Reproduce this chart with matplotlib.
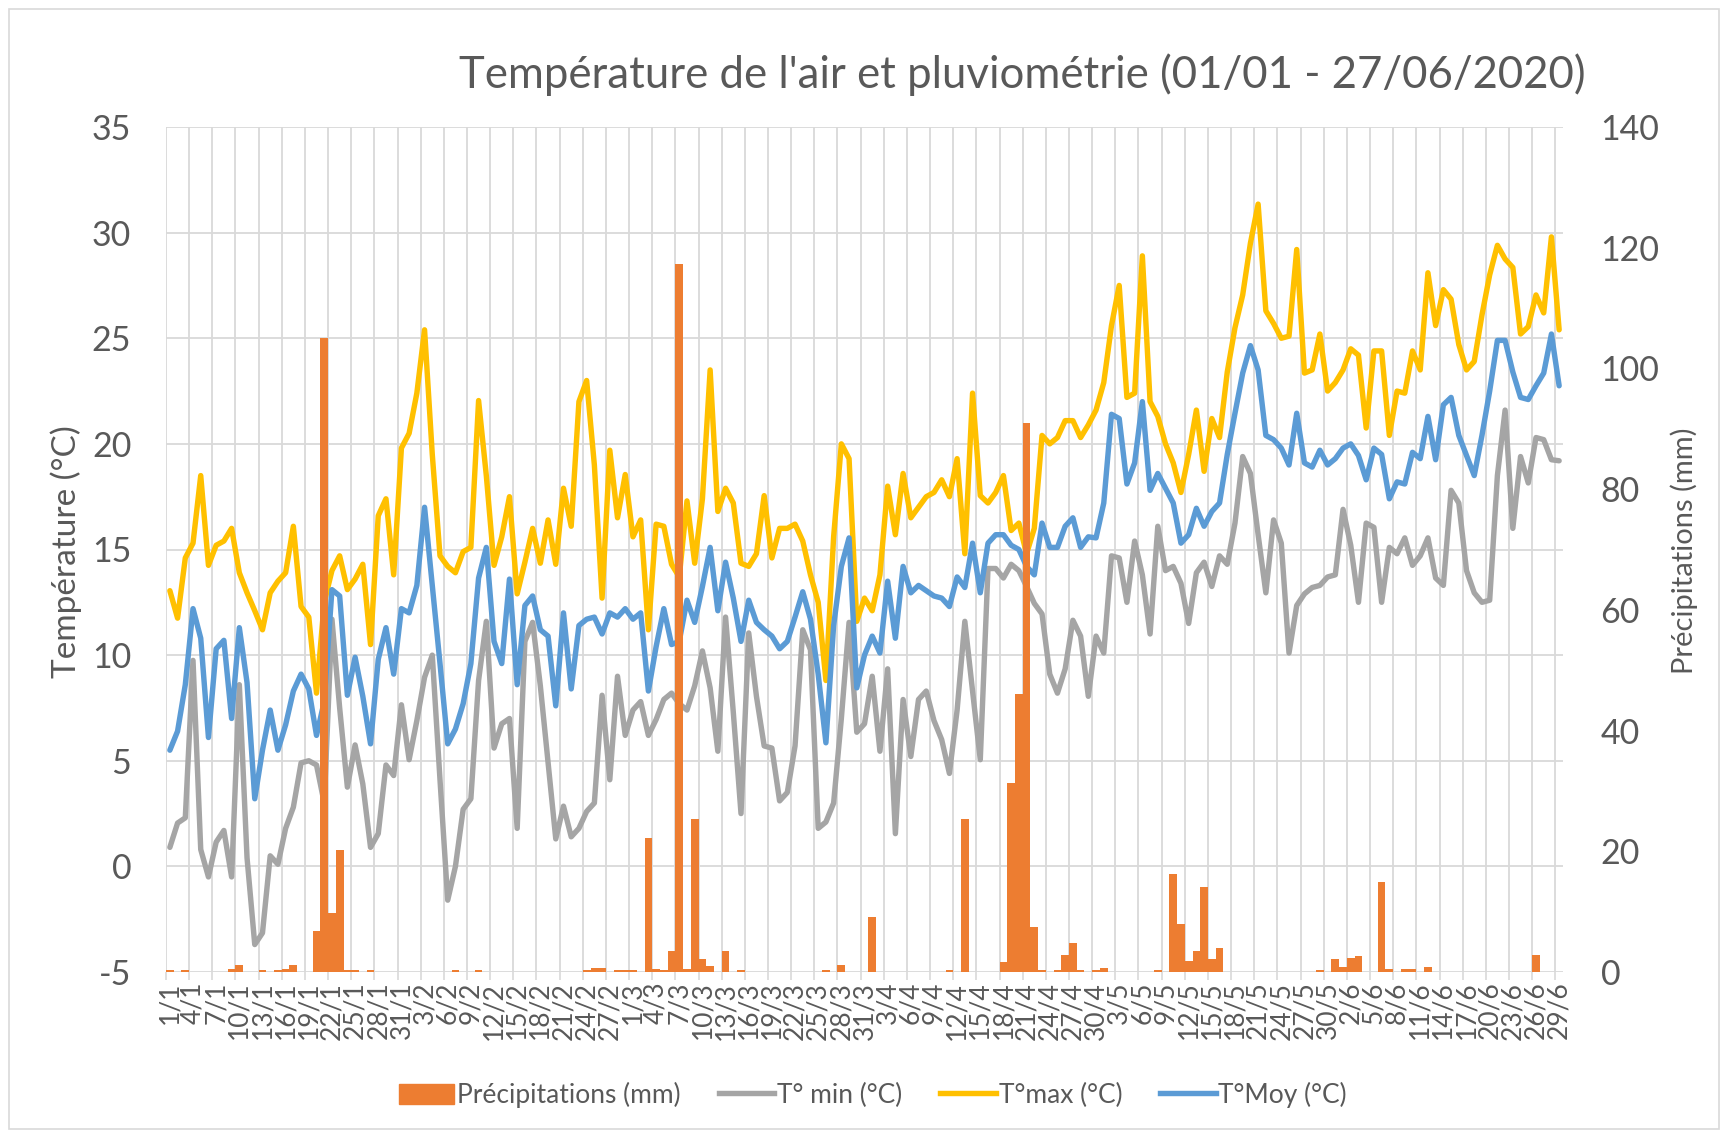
import matplotlib
matplotlib.use("Agg")
import matplotlib.pyplot as plt
from matplotlib.patches import Patch, Rectangle
from matplotlib.lines import Line2D
import pandas as pd

plt.rcParams['font.family'] = ['Lato', 'DejaVu Sans']
plt.rcParams['axes.unicode_minus'] = False

dates = pd.date_range('2020-01-01', '2020-06-29', freq='D')
day_labels = [f"{d.day}/{d.month}" for d in dates]

precip = [
    0.3, 0, 0.3, 0, 0, 0, 0, 0, 0.5, 1.2,
    0, 0, 0.3, 0, 0.3, 0.5, 1.2, 0, 0, 6.8,
    105, 9.8, 20.2, 0.3, 0.3, 0, 0.3, 0, 0, 0,
    0, 0, 0, 0, 0, 0, 0, 0.3, 0, 0,
    0.3, 0, 0, 0, 0, 0, 0, 0, 0, 0,
    0, 0, 0, 0, 0.3, 0.7, 0.7, 0, 0.3, 0.4,
    0.4, 0, 22.2, 0.5, 0.3, 3.5, 117.3, 0.5, 25.3, 2.1,
    1.0, 0, 3.5, 0, 0.4, 0, 0, 0, 0, 0,
    0, 0, 0, 0, 0, 0.4, 0, 1.2, 0, 0,
    0, 9.1, 0, 0, 0, 0, 0, 0, 0, 0,
    0, 0.3, 0, 25.3, 0, 0, 0, 0, 1.6, 31.3,
    46, 91, 7.4, 0.3, 0, 0.3, 2.8, 4.8, 0.3, 0,
    0.4, 0.6, 0, 0, 0, 0, 0, 0, 0.3, 0,
    16.2, 8.0, 1.9, 3.5, 14.1, 2.1, 3.9, 0, 0, 0,
    0, 0, 0, 0, 0, 0, 0, 0, 0, 0.4,
    0, 2.1, 0.8, 2.3, 2.6, 0, 0, 14.9, 0.5, 0,
    0.5, 0.5, 0, 0.8, 0, 0, 0, 0, 0, 0,
    0, 0, 0, 0, 0, 0, 0, 2.8, 0, 0,
    0,
]

tmin = [
    0.9, 2.05, 2.3, 9.75, 0.8, -0.5, 1.15, 1.7, -0.5, 8.6,
    0.4, -3.7, -3.15, 0.5, 0.1, 1.8, 2.8, 4.9, 5.0, 4.8,
    3.0, 11.7, 7.5, 3.75, 5.75, 3.9, 0.9, 1.55, 4.8, 4.3,
    7.65, 5.05, 6.9, 8.95, 10.0, 4.1, -1.6, 0.0, 2.7, 3.2,
    8.8, 11.6, 5.6, 6.75, 7.0, 1.8, 10.65, 11.55, 8.55, 4.9,
    1.3, 2.85, 1.4, 1.8, 2.6, 3.0, 8.1, 4.1, 9.0, 6.2,
    7.4, 7.8, 6.2, 6.95, 7.9, 8.2, 7.7, 7.4, 8.55, 10.2,
    8.45, 5.45, 11.8, 7.3, 2.5, 11.05, 8.05, 5.7, 5.6, 3.1,
    3.5, 5.7, 11.2, 10.25, 1.8, 2.1, 3.0, 7.0, 11.55, 6.35,
    6.75, 9.0, 5.45, 9.35, 1.55, 7.9, 5.2, 7.9, 8.3, 6.9,
    6.0, 4.4, 7.4, 11.6, 8.3, 5.05, 14.1, 14.1, 13.65, 14.3,
    14.0, 13.25, 12.45, 11.95, 9.1, 8.2, 9.35, 11.65, 10.9, 8.05,
    10.9, 10.1, 14.7, 14.6, 12.5, 15.4, 13.8, 11.0, 16.1, 14.0,
    14.2, 13.4, 11.5, 13.9, 14.4, 13.25, 14.7, 14.3, 16.25, 19.4,
    18.6, 15.7, 12.95, 16.4, 15.3, 10.1, 12.35, 12.9, 13.2, 13.3,
    13.7, 13.8, 16.9, 15.2, 12.5, 16.25, 16.05, 12.5, 15.1, 14.8,
    15.55, 14.25, 14.7, 15.55, 13.65, 13.3, 17.8, 17.2, 14.0, 12.95,
    12.5, 12.6, 18.5, 21.6, 16.0, 19.4, 18.15, 20.3, 20.2, 19.25,
    19.2,
]

tmax = [
    13.05, 11.75, 14.6, 15.3, 18.5, 14.25, 15.2, 15.4, 16.0, 13.9,
    12.95, 12.1, 11.2, 12.95, 13.5, 13.9, 16.1, 12.3, 11.8, 8.2,
    12.5, 14.0, 14.7, 13.1, 13.6, 14.3, 10.5, 16.6, 17.4, 13.8,
    19.8, 20.5, 22.4, 25.4, 19.5, 14.7, 14.2, 13.9, 14.9, 15.1,
    22.05, 18.5, 14.25, 15.6, 17.5, 12.9, 14.4, 16.0, 14.35, 16.4,
    14.3, 17.9, 16.1, 22.0, 23.0, 19.0, 12.7, 19.7, 16.5, 18.55,
    15.6, 16.4, 11.2, 16.2, 16.1, 14.3, 13.7, 17.3, 14.35, 17.4,
    23.5, 16.8, 17.9, 17.2, 14.35, 14.2, 14.8, 17.55, 14.6, 16.0,
    16.0, 16.2, 15.4, 13.8, 12.5, 8.8, 15.6, 20.0, 19.3, 11.6,
    12.7, 12.1, 13.8, 18.0, 15.7, 18.6, 16.5, 17.0, 17.5, 17.7,
    18.3, 17.5, 19.3, 14.8, 22.4, 17.55, 17.2, 17.7, 18.5, 15.9,
    16.25, 14.8, 16.0, 20.4, 20.0, 20.3, 21.1, 21.1, 20.3, 20.9,
    21.6, 22.9, 25.6, 27.5, 22.2, 22.4, 28.9, 22.0, 21.3, 20.0,
    19.1, 17.7, 19.5, 21.6, 18.7, 21.2, 20.3, 23.4, 25.5, 27.05,
    29.5, 31.35, 26.3, 25.7, 25.0, 25.1, 29.2, 23.35, 23.5, 25.2,
    22.5, 22.9, 23.5, 24.5, 24.2, 20.75, 24.4, 24.4, 20.4, 22.5,
    22.4, 24.4, 23.5, 28.1, 25.6, 27.3, 26.85, 24.7, 23.5, 23.9,
    26.1, 28.0, 29.4, 28.75, 28.35, 25.2, 25.55, 27.05, 26.2, 29.8,
    25.4,
]

tmoy = [
    5.5, 6.4, 8.6, 12.2, 10.8, 6.1, 10.3, 10.7, 7.0, 11.3,
    8.7, 3.2, 5.5, 7.4, 5.5, 6.7, 8.3, 9.1, 8.4, 6.2,
    7.8, 13.1, 12.8, 8.1, 9.9, 8.05, 5.8, 9.8, 11.3, 9.1,
    12.2, 12.0, 13.3, 17.0, 13.3, 9.6, 5.8, 6.5, 7.7, 9.6,
    13.65, 15.1, 10.65, 9.6, 13.6, 8.6, 12.35, 12.8, 11.2, 10.9,
    7.6, 12.0, 8.4, 11.4, 11.7, 11.8, 11.0, 12.0, 11.8, 12.2,
    11.7, 12.0, 8.3, 10.4, 12.2, 10.5, 10.65, 12.6, 11.55, 13.25,
    15.1, 12.1, 14.4, 12.7, 10.65, 12.6, 11.55, 11.2, 10.9, 10.3,
    10.65, 11.8, 13.0, 11.7, 9.1, 5.85, 11.4, 14.2, 15.55, 8.45,
    10.0, 10.9, 10.1, 13.5, 10.8, 14.2, 12.95, 13.3, 13.05, 12.8,
    12.7, 12.3, 13.7, 13.2, 15.3, 12.95, 15.3, 15.7, 15.7, 15.2,
    15.0, 14.2, 13.8, 16.25, 15.1, 15.1, 16.1, 16.5, 15.1, 15.6,
    15.55, 17.2, 21.4, 21.2, 18.1, 19.1, 22.0, 17.8, 18.6, 17.9,
    17.2, 15.3, 15.7, 16.95, 16.1, 16.8, 17.2, 19.5, 21.45, 23.35,
    24.65, 23.5, 20.4, 20.2, 19.8, 19.0, 21.45, 19.1, 18.9, 19.7,
    19.0, 19.3, 19.8, 20.0, 19.45, 18.3, 19.8, 19.5, 17.4, 18.2,
    18.1, 19.6, 19.3, 21.3, 19.25, 21.85, 22.2, 20.4, 19.45, 18.5,
    20.4, 22.5, 24.9, 24.9, 23.4, 22.2, 22.1, 22.75, 23.35, 25.2,
    22.75,
]

title = "Température de l'air et pluviométrie (01/01 - 27/06/2020)"
C_RAIN = '#ED7D31'
C_MIN = '#A5A5A5'
C_MAX = '#FFC000'
C_MOY = '#5B9BD5'
C_TXT = '#595959'
C_GRID = '#D9D9D9'

n = len(day_labels)
x = list(range(n))

fig = plt.figure(figsize=(17.22, 11.31), dpi=100)
W, H = 1722, 1131
left, right, top, bottom = 166, 1563, 127, 972
ax = fig.add_axes([left / W, 1 - bottom / H, (right - left) / W, (bottom - top) / H])

lw = 3.9
for series, col in ((tmin, C_MIN), (tmax, C_MAX), (tmoy, C_MOY)):
    ax.plot(x, series, color=col, lw=lw, solid_joinstyle='round',
            solid_capstyle='round', zorder=3)

ax.set_xlim(-0.5, n - 0.5)
ax.set_ylim(-5, 35)
ax.set_yticks(range(-5, 36, 5))
ax.set_xticks(x[::3])
ax.set_xticklabels(day_labels[::3], rotation=90, fontsize=19, color=C_TXT)
ax.set_xticks([v - 0.5 for v in x[::3]], minor=True)
ax.tick_params(axis='x', which='major', length=0, pad=7)
ax.tick_params(axis='x', which='minor', length=6, width=1.2, color=C_GRID)
ax.tick_params(axis='y', length=0, pad=25, labelsize=24.5, labelcolor=C_TXT)
ax.grid(axis='y', color=C_GRID, lw=1.3, zorder=0)
ax.grid(axis='x', which='minor', color=C_GRID, lw=1.3, zorder=0)
ax.grid(axis='x', which='major', visible=False)
for s in ax.spines.values():
    s.set_visible(False)
ax.set_axisbelow(True)

ax2 = ax.twinx()
ax2.bar(x, precip, width=1.0, color=C_RAIN, zorder=4)
ax2.set_ylim(0, 140)
ax2.set_yticks(range(0, 141, 20))
ax2.tick_params(axis='y', length=0, pad=27, labelsize=24.5, labelcolor=C_TXT)
for s in ax2.spines.values():
    s.set_visible(False)
ax2.set_xlim(-0.5, n - 0.5)

fig.text(1022 / W, 1 - 75 / H, title, ha='center', va='center', fontsize=31.5, color=C_TXT)
fig.text(66 / W, 1 - 552 / H, 'Température (°C)', rotation=90, ha='center', va='center',
         fontsize=24, color=C_TXT)
fig.text(1684 / W, 1 - 551 / H, 'Précipitations (mm)', rotation=90, ha='center', va='center',
         fontsize=21, color=C_TXT)

handles = [
    Patch(facecolor=C_RAIN, edgecolor=C_RAIN),
    Line2D([0], [0], color=C_MIN, lw=lw),
    Line2D([0], [0], color=C_MAX, lw=lw),
    Line2D([0], [0], color=C_MOY, lw=lw),
]
labels = ['Précipitations (mm)', 'T° min (°C)', 'T°max (°C)', 'T°Moy (°C)']
fig.legend(handles, labels, loc='center', bbox_to_anchor=(873 / W, 1 - 1095 / H), ncol=4,
           frameon=False, fontsize=19, labelcolor=C_TXT, handlelength=2.1, handleheight=0.8,
           handletextpad=0.1, columnspacing=1.45)

fig.patches.append(Rectangle((9 / W, 2 / H), (1719 - 9) / W, (1122 - 2) / H,
                             transform=fig.transFigure, fill=False, edgecolor=C_GRID, lw=1.2))

fig.savefig('out.png', dpi=100)
